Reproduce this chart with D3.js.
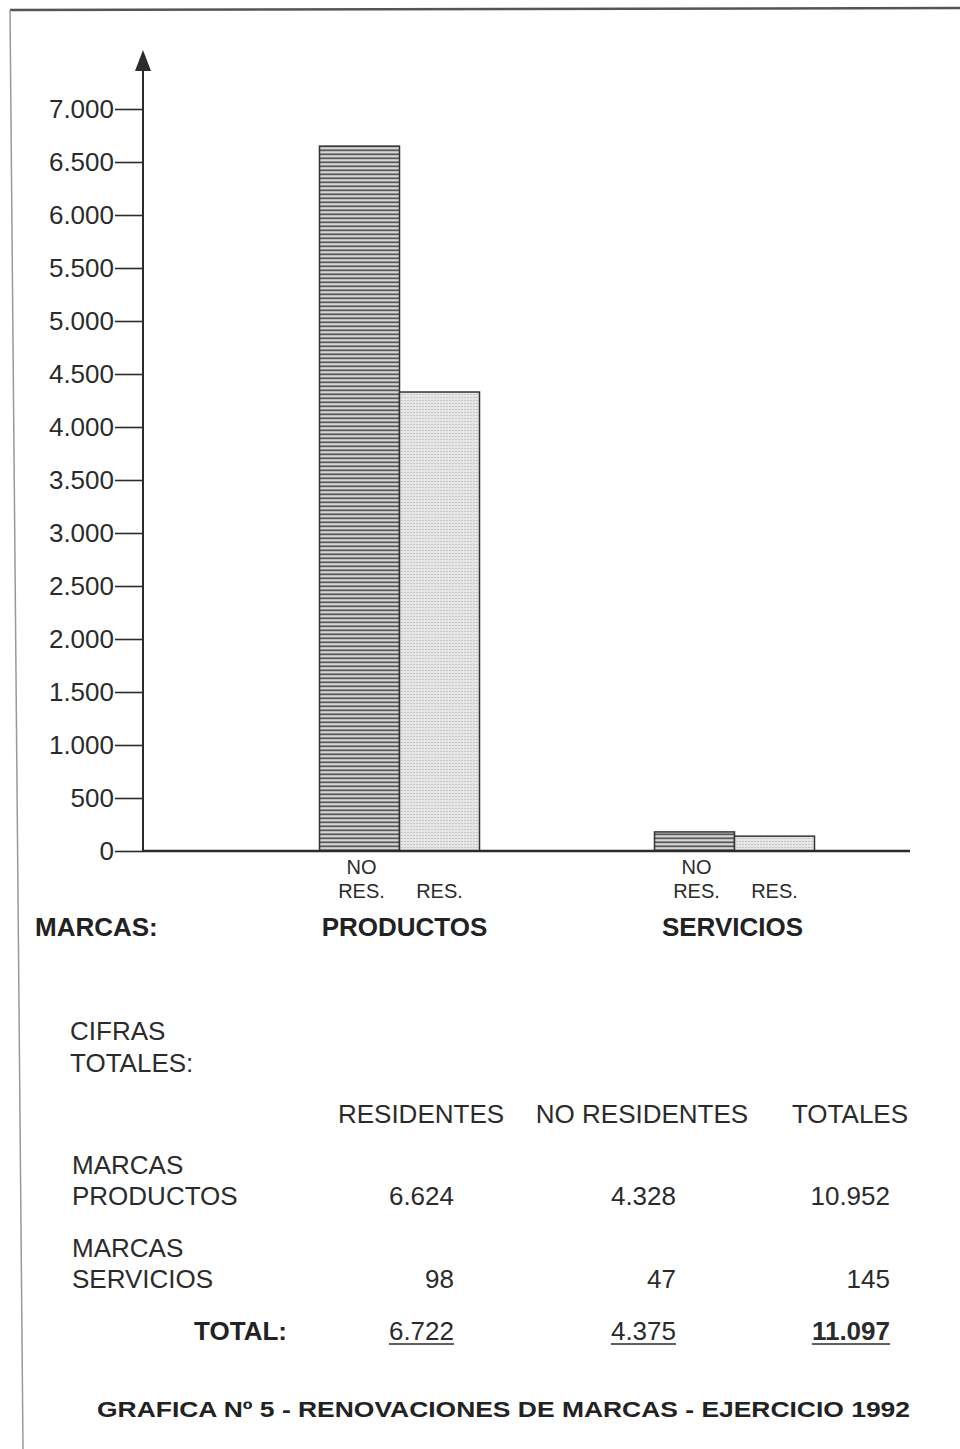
<!DOCTYPE html>
<html>
<head>
<meta charset="utf-8">
<script src="https://cdn.jsdelivr.net/npm/d3@7"></script>
<style>
  body { margin: 0; background: #fff; }
  svg { display: block; font-family: "Liberation Sans", Arial, sans-serif; }
</style>
</head>
<body>
<div id="chart"></div>
<script>
// Values as drawn in the bars
const groups = ["PRODUCTOS", "SERVICIOS"]
const series = ["NO RES.", "RES."]
const productosBars = [6650, 4330]
const serviciosBars = [180, 140]
const yTicks = [0, 500, 1000, 1500, 2000, 2500, 3000, 3500, 4000, 4500, 5000, 5500, 6000, 6500, 7000]

// Table "CIFRAS TOTALES"
const tableHeaders = ["RESIDENTES", "NO RESIDENTES", "TOTALES"]
const rowLabels = [["MARCAS", "PRODUCTOS"], ["MARCAS", "SERVICIOS"]]
const residentes = [6624, 98]
const noResidentes = [4328, 47]
const totales = [10952, 145]
const totalRow = [6722, 4375, 11097]

const width = 960
const height = 1449
const ink = "#2b2b2b"

const locale = d3.formatLocale({ decimal: ",", thousands: ".", grouping: [3], currency: ["", ""] })
const fmt = locale.format(",d")

const svg = d3.select("#chart").append("svg")
    .attr("width", width)
    .attr("height", height)

// page frame (scanned page edges)
svg.append("line")
    .attr("x1", 10).attr("y1", 10).attr("x2", 960).attr("y2", 8)
    .attr("stroke", "#555").attr("stroke-width", 2.5)
svg.append("line")
    .attr("x1", 10).attr("y1", 10).attr("x2", 23).attr("y2", 1449)
    .attr("stroke", "#999").attr("stroke-width", 1.5)

// patterns
const defs = svg.append("defs")
const stripes = defs.append("pattern")
    .attr("id", "stripes")
    .attr("patternUnits", "userSpaceOnUse")
    .attr("width", 8).attr("height", 4)
stripes.append("rect").attr("width", 8).attr("height", 4).attr("fill", "#d6d6d6")
stripes.append("rect").attr("y", 1.4).attr("width", 8).attr("height", 1.8).attr("fill", "#5a5a5a")

const dots = defs.append("pattern")
    .attr("id", "dots")
    .attr("patternUnits", "userSpaceOnUse")
    .attr("width", 3).attr("height", 3)
dots.append("rect").attr("width", 3).attr("height", 3).attr("fill", "#e6e6e6")
dots.append("rect").attr("x", 1).attr("y", 1).attr("width", 1).attr("height", 1).attr("fill", "#a8a8a8")

const fills = { "NO RES.": "url(#stripes)", "RES.": "url(#dots)" }

// scales
const axisX = 143
const y = d3.scaleLinear().domain([0, 7000]).range([851, 109])
const x0 = d3.scaleBand().domain(groups).range([232, 902])
const x1 = d3.scaleBand().domain(series).range([0, 160])
const groupOffset = (x0.bandwidth() - x1.range()[1]) / 2

// y axis ticks
const yAxis = svg.append("g")
    .attr("transform", `translate(${axisX},0)`)
    .call(d3.axisLeft(y).tickValues(yTicks).tickSize(28).tickPadding(1).tickFormat(fmt).tickSizeOuter(0))
yAxis.select(".domain").remove()
yAxis.selectAll(".tick line").attr("stroke", ink).attr("stroke-width", 1.6)
yAxis.selectAll(".tick text")
    .attr("fill", ink)
    .attr("font-size", 26)
    .attr("font-family", "Liberation Sans, Arial, sans-serif")

// vertical axis with arrow
svg.append("line")
    .attr("x1", axisX).attr("x2", axisX)
    .attr("y1", y(0)).attr("y2", 68)
    .attr("stroke", ink).attr("stroke-width", 2)
svg.append("path")
    .attr("d", `M${axisX},50 L${axisX - 8},71 L${axisX + 8},71 Z`)
    .attr("fill", ink)

// bars
const barData = [productosBars, serviciosBars]
const bars = svg.append("g")
    .selectAll("g")
    .data(groups)
    .join("g")
      .attr("transform", d => `translate(${x0(d) + groupOffset},0)`)
bars.selectAll("rect")
    .data((g, i) => series.map((s, j) => ({ s, v: barData[i][j] })))
    .join("rect")
      .attr("x", d => x1(d.s))
      .attr("y", d => y(d.v))
      .attr("width", x1.bandwidth())
      .attr("height", d => y(0) - y(d.v))
      .attr("fill", d => fills[d.s])
      .attr("stroke", "#333")
      .attr("stroke-width", 1.5)

// baseline
svg.append("line")
    .attr("x1", axisX).attr("x2", 910)
    .attr("y1", y(0)).attr("y2", y(0))
    .attr("stroke", ink).attr("stroke-width", 2.5)

// bar labels
bars.each(function() {
  const g = d3.select(this)
  const cNo = x1("NO RES.") + x1.bandwidth() / 2 + 2
  const cRes = x1("RES.") + x1.bandwidth() / 2
  g.append("text").attr("x", cNo).attr("y", 874).text("NO")
  g.append("text").attr("x", cNo).attr("y", 898).text("RES.")
  g.append("text").attr("x", cRes).attr("y", 898).text("RES.")
  g.selectAll("text")
      .attr("text-anchor", "middle")
      .attr("font-size", 20)
      .attr("fill", ink)
})

// group labels
svg.append("text")
    .attr("x", 35).attr("y", 936)
    .attr("font-size", 26).attr("font-weight", "bold").attr("fill", "#222")
    .text("MARCAS:")
svg.selectAll(".glabel")
    .data(groups)
    .join("text")
      .attr("class", "glabel")
      .attr("x", (d, i) => x0(d) + x0.bandwidth() / 2 + (i === 0 ? 5 : -2))
      .attr("y", 936)
      .attr("text-anchor", "middle")
      .attr("font-size", 26).attr("font-weight", "bold").attr("fill", "#222")
      .text(d => d)

// table
const table = svg.append("g").attr("fill", ink).attr("font-size", 26)
table.append("text").attr("x", 70).attr("y", 1040).text("CIFRAS")
table.append("text").attr("x", 70).attr("y", 1072).text("TOTALES:")

const headerCenters = [421, 642, 850]
const colRight = [454, 676, 890]
table.selectAll(".hdr")
    .data(tableHeaders)
    .join("text")
      .attr("class", "hdr")
      .attr("x", (d, i) => headerCenters[i])
      .attr("y", 1123)
      .attr("text-anchor", "middle")
      .text(d => d)

const rowY = [1205, 1288]
rowLabels.forEach((lbl, r) => {
  table.append("text").attr("x", 72).attr("y", rowY[r] - 31).text(lbl[0])
  table.append("text").attr("x", 72).attr("y", rowY[r]).text(lbl[1])
  ;[residentes[r], noResidentes[r], totales[r]].forEach((v, c) => {
    table.append("text")
        .attr("x", colRight[c]).attr("y", rowY[r])
        .attr("text-anchor", "end")
        .text(fmt(v))
  })
})

table.append("text")
    .attr("x", 287).attr("y", 1340)
    .attr("text-anchor", "end")
    .attr("font-weight", "bold")
    .attr("font-size", 26)
    .attr("fill", "#222")
    .text("TOTAL:")
totalRow.forEach((v, c) => {
  const t = table.append("text")
      .attr("x", colRight[c]).attr("y", 1340)
      .attr("text-anchor", "end")
      .attr("font-weight", c === 2 ? "bold" : "normal")
      .text(fmt(v))
  const b = t.node().getBBox()
  table.append("line")
      .attr("x1", b.x).attr("x2", b.x + b.width)
      .attr("y1", 1344).attr("y2", 1344)
      .attr("stroke", ink).attr("stroke-width", 1.5)
})

// caption
svg.append("text")
    .attr("x", 97).attr("y", 1417)
    .attr("font-size", 22).attr("font-weight", "bold").attr("fill", "#222")
    .attr("textLength", 813).attr("lengthAdjust", "spacingAndGlyphs")
    .text("GRAFICA Nº 5 - RENOVACIONES DE MARCAS - EJERCICIO 1992")
</script>
</body>
</html>
